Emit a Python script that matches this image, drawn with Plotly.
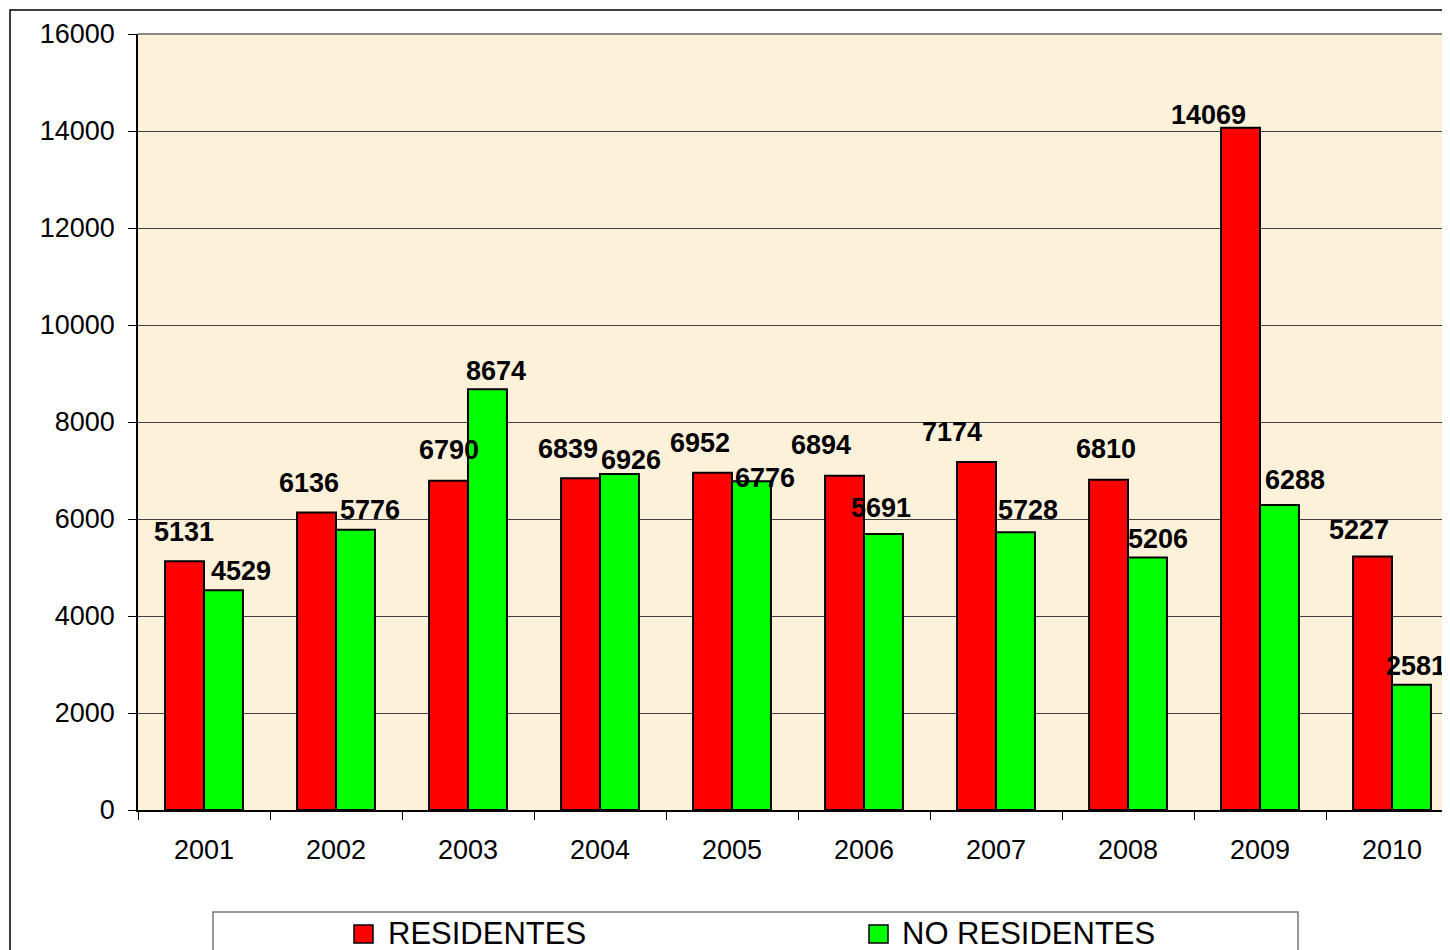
import plotly.graph_objects as go

years = ["2001", "2002", "2003", "2004", "2005", "2006", "2007", "2008", "2009", "2010"]
residentes = [5131, 6136, 6790, 6839, 6952, 6894, 7174, 6810, 14069, 5227]
no_residentes = [4529, 5776, 8674, 6926, 6776, 5691, 5728, 5206, 6288, 2581]
y_ticks = [0, 2000, 4000, 6000, 8000, 10000, 12000, 14000, 16000]
y_tick_text = ["0", "2000", "4000", "6000", "8000", "10000", "12000", "14000", "16000"]

# label nudges (pixels) to mimic the reference's label placement
res_dx = [-1, -8, 0, -13, -13, -24, -25, -3, -32, -14]
res_dy = [29, 29, 31, 29, 30, 31, 30, 31, 13, 26]
nor_dx = [17, 14, 8, 11, 13, -3, 12, 10, 15, 4]
nor_dy = [19, 20, 18, 14, 3, 26, 22, 19, 25, 19]

OFF = 8  # page body margin
W, H = 1450 - OFF, 950 - OFF
L, T, B = 138 - OFF, 34 - OFF, 810 - OFF
PW = W - L
PH = B - T
CAT = 132.0
BAR_OFF = 19.5 / CAT

def px(x):
    # page pixel -> paper fraction
    return (x - OFF - L) / PW

def py(y):
    return (B - (y - OFF)) / PH

FONT = "Liberation Sans, Arial"

fig = go.Figure()
fig.add_trace(go.Bar(x=years, y=residentes, name="RESIDENTES",
                     marker=dict(color="#FF0000", line=dict(color="black", width=2))))
fig.add_trace(go.Bar(x=years, y=no_residentes, name="NO RESIDENTES",
                     marker=dict(color="#00FF00", line=dict(color="black", width=2))))

annotations = []
for i, yr in enumerate(years):
    annotations.append(dict(x=i - BAR_OFF, y=residentes[i], xref="x", yref="y",
                            text=str(residentes[i]), showarrow=False,
                            xshift=res_dx[i], yshift=res_dy[i],
                            font=dict(family=FONT, size=27, color="black", weight="bold")))
    annotations.append(dict(x=i + BAR_OFF, y=no_residentes[i], xref="x", yref="y",
                            text=str(no_residentes[i]), showarrow=False,
                            xshift=nor_dx[i], yshift=nor_dy[i],
                            font=dict(family=FONT, size=27, color="black", weight="bold")))

# manual legend
annotations.append(dict(x=px(386), y=py(934), xref="paper", yref="paper", text="RESIDENTES",
                        showarrow=False, xanchor="left", yanchor="middle",
                        font=dict(family=FONT, size=31, color="black")))
annotations.append(dict(x=px(900), y=py(934), xref="paper", yref="paper", text="NO RESIDENTES",
                        showarrow=False, xanchor="left", yanchor="middle",
                        font=dict(family=FONT, size=31, color="black")))

shapes = [
    # outer chart border
    dict(type="rect", xref="paper", yref="paper", x0=px(10), x1=px(1470), y0=py(970), y1=py(10),
         line=dict(color="black", width=1.5), fillcolor="rgba(0,0,0,0)", layer="below"),
    # plot-area top border
    dict(type="line", xref="paper", yref="paper", x0=0, x1=1, y0=1, y1=1,
         line=dict(color="#888888", width=2)),
    # legend box
    dict(type="rect", xref="paper", yref="paper", x0=px(213), x1=px(1298), y0=py(970), y1=py(912),
         line=dict(color="#777777", width=1.5), fillcolor="white"),
    dict(type="rect", xref="paper", yref="paper", x0=px(354), x1=px(373), y0=py(943), y1=py(925),
         line=dict(color="black", width=1.5), fillcolor="#FF0000"),
    dict(type="rect", xref="paper", yref="paper", x0=px(869), x1=px(888), y0=py(943), y1=py(925),
         line=dict(color="black", width=1.5), fillcolor="#00FF00"),
]

fig.update_layout(
    width=W, height=H,
    margin=dict(l=L, r=0, t=T, b=H - B, pad=0),
    paper_bgcolor="white",
    plot_bgcolor="#FEF1DA",
    barmode="group",
    bargap=0.41,
    bargroupgap=0,
    showlegend=False,
    annotations=annotations,
    shapes=shapes,
    font=dict(family=FONT, size=27, color="black"),
)
fig.update_xaxes(
    type="category",
    range=[-0.5, -0.5 + PW / CAT],
    tickson="boundaries",
    ticks="outside", ticklen=8, tickcolor="black", tickwidth=1,
    showline=True, linecolor="black", linewidth=1.5,
    showgrid=False,
    tickfont=dict(size=27),
    ticklabelstandoff=15,
)
fig.update_yaxes(
    range=[0, 16000],
    tickvals=y_ticks,
    ticktext=y_tick_text,
    ticks="outside", ticklen=8, tickcolor="black", tickwidth=1,
    showline=True, linecolor="black", linewidth=1.5,
    showgrid=True, gridcolor="#404040", gridwidth=1,
    zeroline=False,
    tickfont=dict(size=27),
    ticklabelstandoff=8,
)

fig.write_html("out.html")
